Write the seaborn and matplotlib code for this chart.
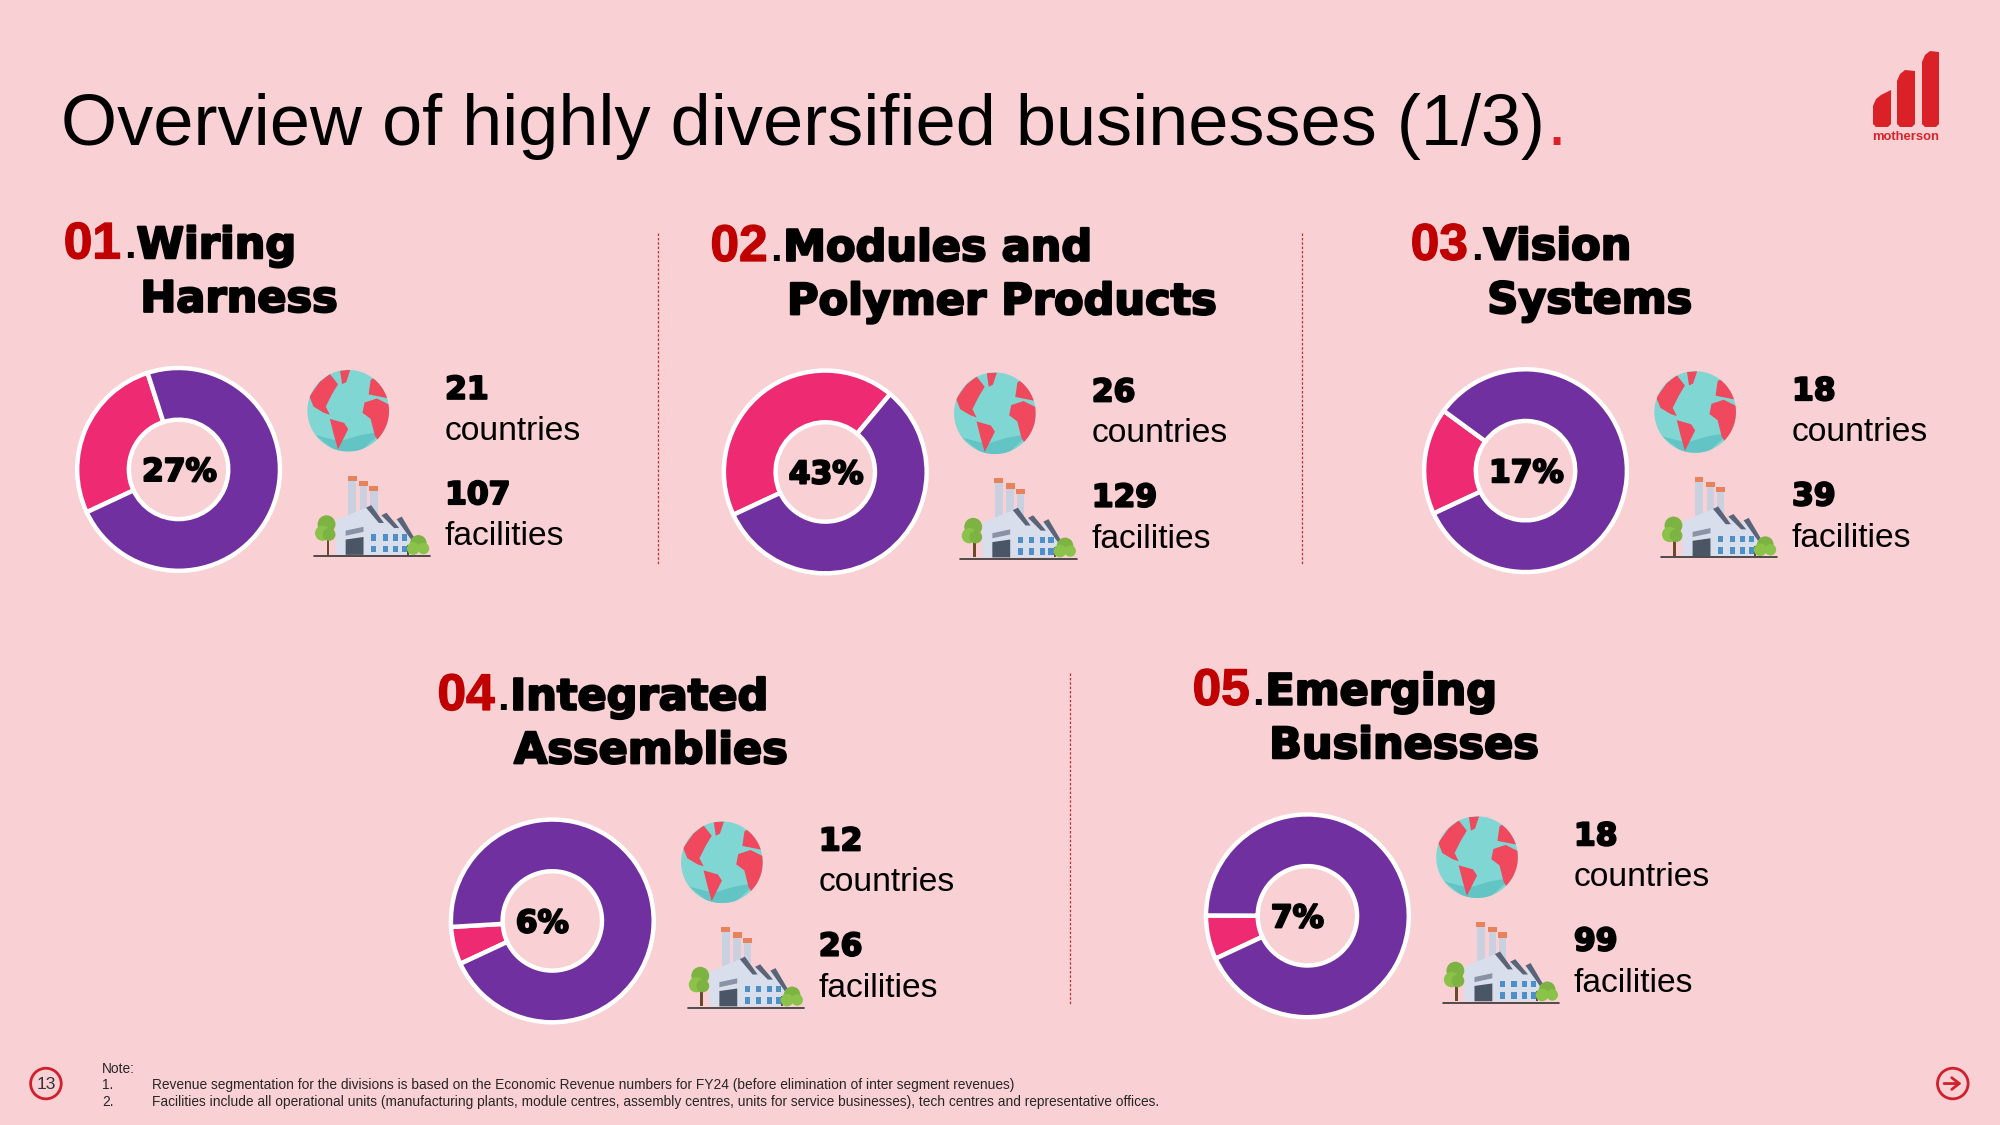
import matplotlib
matplotlib.use("Agg")
import matplotlib.pyplot as plt
import matplotlib.patheffects as pe
from matplotlib.patches import Circle, Polygon
import seaborn as sns

# ---- data ----
numbers = ["01", "02", "03", "04", "05"]
line_one = ["Wiring", "Modules and", "Vision", "Integrated", "Emerging"]
line_two = ["Harness", "Polymer Products", "Systems", "Assemblies", "Businesses"]
share_pct = [27, 43, 17, 6, 7]
countries = [21, 26, 18, 12, 18]
facilities = [107, 129, 39, 26, 99]
title_text = "Overview of highly diversified businesses (1/3)"
note_lines = [
    "Revenue segmentation for the divisions is based on the Economic Revenue numbers for FY24 (before elimination of inter segment revenues)",
    "Facilities include all operational units (manufacturing plants, module centres, assembly centres, units for service businesses), tech centres and representative offices.",
]

# ---- layout (pixel positions of the 2000x1125 canvas) ----
S = 2000 / 1568
centers = [(140, 368), (647, 370), (1196, 369), (433, 722), (1025, 718)]
BG, PURPLE, PINK, DARKRED, LOGO = "#F9D0D3", "#7030A0", "#EE2A72", "#C00000", "#DB2128"
FONT = "Liberation Sans"
HEAVY = "DejaVu Sans"

sns.set_theme(style="white")
plt.rcParams["font.family"] = [FONT, "DejaVu Sans"]
palette = sns.color_palette([PINK, PURPLE])

fig = plt.figure(figsize=(20, 11.25), dpi=100, facecolor=BG)
ax = fig.add_axes([0, 0, 1, 1], zorder=0)
ax.set_xlim(0, 2000)
ax.set_ylim(1125, 0)
ax.axis("off")


def T(x, y, s, size, color="black", weight="normal", ha="left", va="center", heavy=0.0, family=FONT):
    t = ax.text(x * S, y * S, s, fontsize=size, color=color, fontweight=weight, ha=ha, va=va, family=family)
    if heavy:
        t.set_path_effects([pe.withStroke(linewidth=heavy, foreground=color)])
    return t


def globe(cx, cy, r):
    c = Circle((cx * S, cy * S), r * S, fc="#7FD6D2", ec="none", zorder=2)
    ax.add_patch(c)
    shade = Polygon([((cx + r * a) * S, (cy - r * b) * S) for a, b in
                     [(-0.8, -0.6), (-0.2, -0.75), (0.3, -0.6), (0.85, -0.5), (0.3, -1), (-0.3, -1)]],
                    fc="#62C4C4", ec="none", zorder=2)
    ax.add_patch(shade)
    shade.set_clip_path(c)
    lands = [
        [(-0.95, 0.35), (-0.7, 0.7), (-0.45, 0.9), (-0.25, 0.65), (-0.4, 0.4), (-0.55, 0.1),
         (-0.45, -0.1), (-0.6, -0.05), (-0.85, 0.1)],
        [(-0.2, 0.98), (0.05, 1.0), (-0.05, 0.7), (-0.15, 0.65)],
        [(-0.45, -0.2), (-0.1, -0.3), (0.0, -0.45), (-0.15, -0.75), (-0.25, -0.95), (-0.35, -0.6)],
        [(0.4, 0.2), (0.7, 0.3), (1.0, 0.15), (1.0, -0.4), (0.8, -0.85), (0.65, -0.6), (0.55, -0.2), (0.35, -0.05)],
        [(0.5, 0.4), (0.55, 0.75), (0.75, 0.9), (1.0, 0.6), (1.0, 0.3), (0.75, 0.35)],
    ]
    for land in lands:
        p = Polygon([((cx + r * a) * S, (cy - r * b) * S) for a, b in land], fc="#F0485C", ec="none", zorder=3)
        ax.add_patch(p)
        p.set_clip_path(c)


def factory(x0, y0):
    def P(pts, col, z=3):
        ax.add_patch(Polygon([((x0 + a) * S, (y0 + b) * S) for a, b in pts], fc=col, ec="none", zorder=z))

    for a, top in [(26, 5), (35, 9), (43, 13)]:
        P([(a, top), (a + 6, top), (a + 6, 32), (a, 32)], "#C9D0E0")
        P([(a - 0.5, top - 4), (a + 6.5, top - 4), (a + 6.5, top), (a - 0.5, top)], "#E8825A")
    P([(16, 36), (40, 26), (50, 38), (52, 32), (62, 42), (64, 35), (76, 52), (76, 63), (16, 63)], "#D9DEEC")
    P([(40, 26), (44, 24), (54, 38), (50, 38)], "#5A6478", 4)
    P([(52, 32), (56, 30), (66, 42), (62, 42)], "#5A6478", 4)
    P([(64, 35), (68, 33), (78, 50), (76, 52)], "#5A6478", 4)
    P([(24, 44), (38, 41), (38, 45), (24, 48)], "#8A93A6", 4)
    P([(24, 51), (38, 49), (38, 63), (24, 63)], "#4A5566", 4)
    for wx in (44, 53, 61, 68):
        for wy in (47, 56):
            P([(wx, wy), (wx + 4, wy), (wx + 4, wy + 5), (wx, wy + 5)], "#4F8FC8", 4)
    P([(9, 45), (11, 45), (11, 63), (9, 63)], "#6B4A2B", 4)
    P([(72, 55), (74, 55), (74, 63), (72, 63)], "#6B4A2B", 5)
    for dx, dy, r, col in [(9, 39, 7, "#7CB342"), (6, 46, 6, "#8BC34A"), (11, 47, 5, "#7CB342"),
                           (81, 54, 6.5, "#7CB342"), (77, 58, 5, "#8BC34A"), (85, 58, 4.5, "#8BC34A")]:
        ax.add_patch(Circle(((x0 + dx) * S, (y0 + dy) * S), r * S, fc=col, ec="none", zorder=5))
    ax.plot([(x0 - 1) * S, (x0 + 90) * S], [(y0 + 64) * S] * 2, color="#333333", lw=1.2, zorder=5)


for i, (cx, cy) in enumerate(centers):
    # donut
    R = 79.5 * S
    a = fig.add_axes([(cx * S - R * 1.05) / 2000, 1 - (cy * S + R * 1.05) / 1125,
                      2 * R * 1.05 / 2000, 2 * R * 1.05 / 1125], zorder=2)
    p = share_pct[i]
    a.pie([p, 100 - p], colors=palette, startangle=205 - 3.6 * p, counterclock=True, radius=1,
          wedgeprops=dict(width=0.51, edgecolor="white", linewidth=3.2))
    a.set_xlim(-1.05, 1.05)
    a.set_ylim(-1.05, 1.05)
    a.text(-0.36, -0.03, f"{p}%", ha="left", va="center", fontsize=22.5, fontweight="bold",
           family=HEAVY, color="black", path_effects=[pe.withStroke(linewidth=1.5, foreground="black")])

    # heading
    T(cx - 90, cy - 176, numbers[i], 37, DARKRED, "bold", heavy=1.0)
    T(cx - 43, cy - 174, ".", 30, "black", "bold")
    T(cx - 33, cy - 175, line_one[i], 31, "black", "bold", heavy=1.6, family=HEAVY)
    T(cx - 30, cy - 133, line_two[i], 31, "black", "bold", heavy=1.6, family=HEAVY)

    # icons and figures
    globe(cx + 133, cy - 46, 32)
    factory(cx + 107, cy + 4)
    T(cx + 209, cy - 62, str(countries[i]), 22.5, "black", "bold", heavy=1.5, family=HEAVY)
    T(cx + 208.5, cy - 30, "countries", 24.2)
    T(cx + 209, cy + 20.5, str(facilities[i]), 22.5, "black", "bold", heavy=1.5, family=HEAVY)
    T(cx + 208.5, cy + 53, "facilities", 24.2)

# dividers
for x, y0, y1 in [(515.5, 183, 443), (1021, 183, 443), (839, 528, 787)]:
    ax.plot([x * S, x * S], [y0 * S, y1 * S], color="#B5343C", lw=0.9, ls=(0, (2, 1.5)), zorder=1)

# title
t = T(48, 99.5, title_text, 51.9)
fig.canvas.draw()
ext = t.get_window_extent()
ax.text(ext.x1 + 1, 99.5 * S, ".", fontsize=51.9, color="#DB2128", va="center", ha="left")

# logo
for (x0, x1, yl, yr) in [(1873, 1891, 102, 90), (1897, 1915, 77, 71), (1922, 1939, 58, 52)]:
    ax.add_patch(Polygon([(x0 + 3, 127), (x0, 124), (x0, yl + 4), (x0 + 3, yl - 3), (x0 + 8, yl - 7),
                          (x1, yr), (x1, 124), (x1 - 3, 127)],
                         fc=LOGO, ec="none", zorder=2))
ax.text(1906, 137, "motherson", color=LOGO, fontsize=9.4, fontweight="bold", ha="center", va="center")

# notes
ax.text(80 * S, 838 * S, "Note:", fontsize=9.9, va="center")
for j, line in enumerate(note_lines):
    ax.text(80 * S, (851 + 12.7 * j) * S, f"{j + 1}.", fontsize=9.9, va="center")
    ax.text(119 * S, (851 + 12.7 * j) * S, line, fontsize=9.9, va="center")

# page marker and arrow
ax.add_patch(Circle((36 * S, 849.5 * S), 12 * S, fc="none", ec="#D0202C", lw=2))
ax.text(36 * S, 850 * S, "13", fontsize=12.5, ha="center", va="center", color="#333333")
ax.add_patch(Circle((1531 * S, 849.5 * S), 12 * S, fc="none", ec="#D0202C", lw=2))
ax.annotate("", xy=(1540 * S, 849.5 * S), xytext=(1522 * S, 849.5 * S),
            arrowprops=dict(arrowstyle="->,head_width=0.35,head_length=0.45", color="#D0202C", lw=2))

fig.savefig("out.png", dpi=100, facecolor=BG)
